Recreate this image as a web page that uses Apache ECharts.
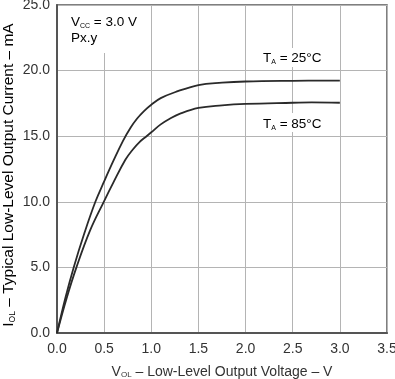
<!DOCTYPE html>
<html>
<head>
<meta charset="utf-8">
<script src="https://cdn.jsdelivr.net/npm/echarts@6/dist/echarts.min.js"></script>
<style>html,body{margin:0;padding:0;background:#fff}#c{width:395px;height:379px}</style>
</head>
<body>
<div id="c"></div>
<script>
// Data
var volt25 = [0, 0.09, 0.177, 0.29, 0.407, 0.50, 0.60, 0.70, 0.78, 0.85, 0.92, 1.00, 1.10, 1.25, 1.50, 1.75, 2.00, 2.50, 3.00];
var curr25 = [0, 2.7, 5.0, 7.6, 10.0, 11.55, 13.15, 14.65, 15.65, 16.35, 16.9, 17.4, 17.9, 18.35, 18.9, 19.08, 19.17, 19.22, 19.24];
var volt85 = [0, 0.10, 0.206, 0.35, 0.496, 0.60, 0.725, 0.80, 0.875, 0.95, 1.00, 1.10, 1.20, 1.30, 1.50, 1.75, 2.00, 2.50, 2.70, 3.00];
var curr85 = [0, 2.6, 5.0, 7.8, 10.0, 11.5, 13.2, 13.95, 14.55, 15.0, 15.3, 15.9, 16.35, 16.7, 17.15, 17.35, 17.46, 17.55, 17.58, 17.55];
var xTicks = ['0.0','0.5','1.0','1.5','2.0','2.5','3.0','3.5'];
var yTicks = ['0.0','5.0','10.0','15.0','20.0','25.0'];
var xTitle = '{n|V}{s|OL}{n| – Low-Level Output Voltage – V}';
var yTitle = '{n|I}{s|OL}{n| – Typical Low-Level Output Current – mA}';

function pairs(xs, ys){ return xs.map(function(x,i){ return [x, ys[i]]; }); }

var FONT = '"Liberation Sans", Arial, sans-serif';
var chart = echarts.init(document.getElementById('c'), null, {renderer:'canvas'});
var sub = {fontSize: 8, fontFamily: FONT, color:'#333', verticalAlign:'bottom', padding:[6,0,0,0]};
var norm = {fontSize: 14, fontFamily: FONT, color:'#333'};
var subY = {fontSize: 8.5, fontFamily: FONT, color:'#333', verticalAlign:'bottom', padding:[6,0,0,0]};
var normY = {fontSize: 15.5, fontFamily: FONT, color:'#333'};
var subA = {fontSize: 7, fontFamily: FONT, color:'#333', verticalAlign:'bottom', padding:[5,0,0,0]};
var normA = {fontSize: 13.5, fontFamily: FONT, color: '#333', lineHeight: 16};
chart.setOption({
  animation: false,
  grid: {left: 57, right: 8, top: 5, bottom: 46, containLabel: false, outerBoundsMode: 'none',
         show: true, borderColor: '#555', borderWidth: 1.5, backgroundColor: '#fff'},
  xAxis: {
    type: 'value', min: 0, max: 3.5, interval: 0.5,
    axisLine: {show: true, lineStyle: {color: '#555', width: 2}},
    axisTick: {show: false},
    splitLine: {show: true, lineStyle: {color: '#b4b4b4', width: 1}},
    axisLabel: {color: '#333', fontSize: 14, fontFamily: FONT, margin: 9, showMinLabel: true, showMaxLabel: true,
      formatter: function(v){ var i = Math.round(v/0.5); return xTicks[i] || ''; }},
    name: xTitle,
    nameLocation: 'middle', nameGap: 32,
    nameTextStyle: {rich: {n: norm, s: sub}}
  },
  yAxis: {
    type: 'value', min: 0, max: 25, interval: 5,
    axisLine: {show: true, lineStyle: {color: '#555', width: 2}},
    axisTick: {show: false},
    splitLine: {show: true, lineStyle: {color: '#b4b4b4', width: 1}},
    axisLabel: {color: '#333', fontSize: 14, fontFamily: FONT, margin: 7, showMinLabel: true, showMaxLabel: true,
      formatter: function(v){ var i = Math.round(v/5); return yTicks[i] || ''; }}
  },
  series: [
    {type: 'line', data: pairs(volt25, curr25), smooth: 0.4, showSymbol: false,
     lineStyle: {color: '#2a2a2a', width: 1.8}, z: 5},
    {type: 'line', data: pairs(volt85, curr85), smooth: 0.4, showSymbol: false,
     lineStyle: {color: '#2a2a2a', width: 1.8}, z: 5}
  ],
  graphic: [
    {type: 'text', x: 9, y: 175, rotation: Math.PI / 2, z: 11, style: {
      text: yTitle, align: 'center', verticalAlign: 'middle', rich: {n: normY, s: subY}
    }},
    {type: 'rect', shape: {x: 68, y: 6, width: 75, height: 47}, style: {fill: '#fff'}, z: 10},
    {type: 'text', x: 71, y: 14, z: 11, style: {
      text: '{n|V}{s|CC}{n| = 3.0 V}\n{n|Px.y}', rich: {n: normA, s: subA}
    }},
    {type: 'rect', shape: {x: 253, y: 48, width: 82, height: 19}, style: {fill: '#fff'}, z: 10},
    {type: 'text', x: 263, y: 50, z: 11, style: {
      text: '{n|T}{s|A}{n| = 25°C}', rich: {n: normA, s: subA}
    }},
    {type: 'rect', shape: {x: 253, y: 113, width: 82, height: 19}, style: {fill: '#fff'}, z: 10},
    {type: 'text', x: 263, y: 116, z: 11, style: {
      text: '{n|T}{s|A}{n| = 85°C}', rich: {n: normA, s: subA}
    }}
  ]
});
</script>
</body>
</html>
